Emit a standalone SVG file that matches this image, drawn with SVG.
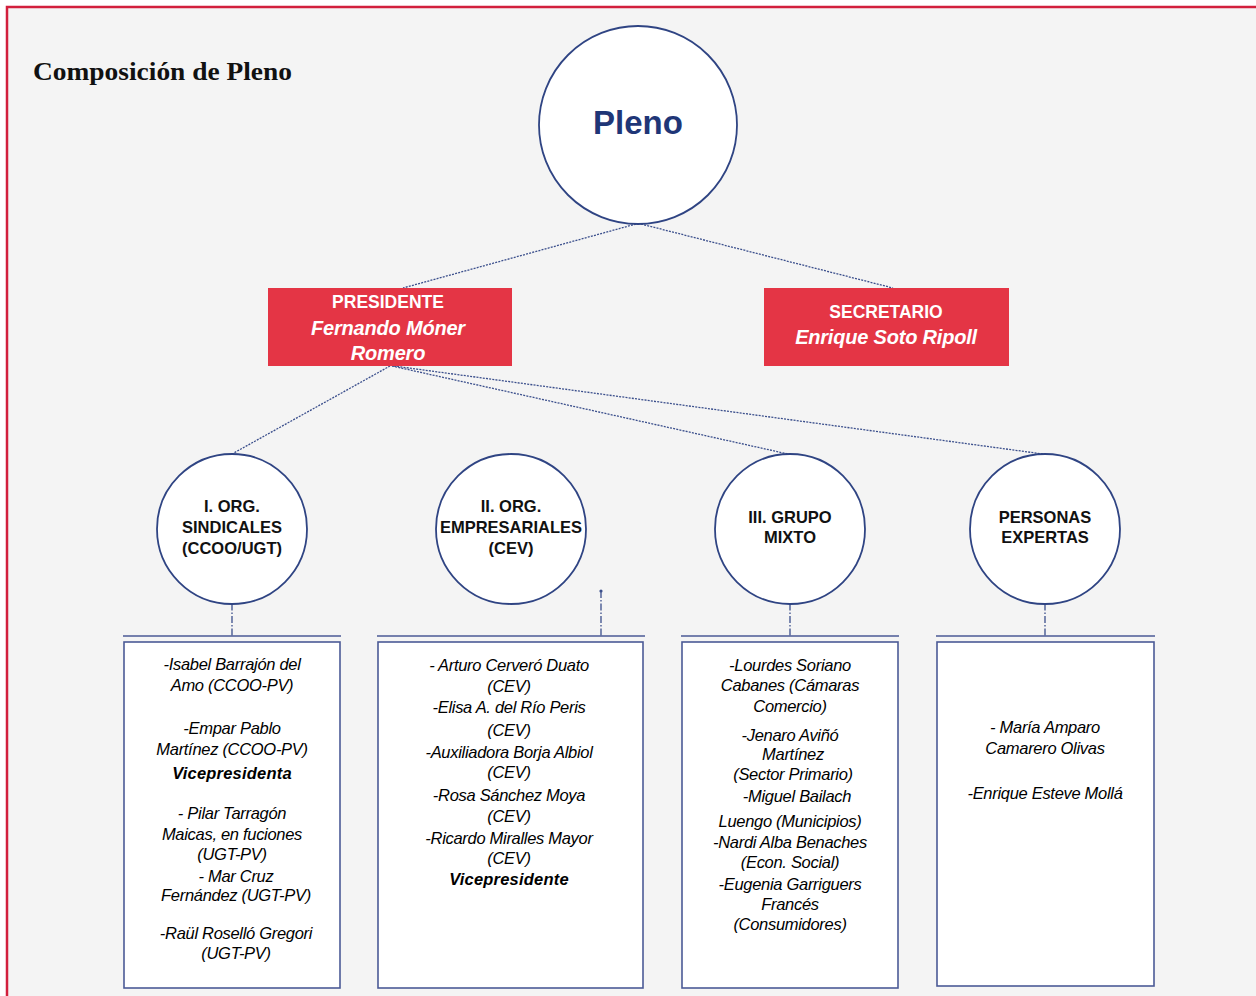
<svg xmlns="http://www.w3.org/2000/svg" width="1256" height="996" viewBox="0 0 1256 996">
<style>
.bg{fill:#f4f4f4}
.frame{fill:none;stroke:#d21f3c;stroke-width:2.5}
.circ{fill:#ffffff;stroke:#2f4483;stroke-width:1.8}
.redbox{fill:#e43545}
.box{fill:#ffffff;stroke:#4b5a96;stroke-width:1.6}
.hline{stroke:#4b5a96;stroke-width:1.6}
.dot{fill:none;stroke:#3b4f8c;stroke-width:1.3;stroke-dasharray:2 1.2}
.vline{fill:none;stroke:#3b4f8c;stroke-width:1.3;stroke-dasharray:7 2 1.5 2}
.title{font-family:"Liberation Serif","DejaVu Serif",serif;font-weight:bold;font-size:26px;fill:#111}
.pleno{font-family:"Liberation Sans",Arial,sans-serif;font-weight:bold;font-size:33px;fill:#1f3677;text-anchor:middle}
.rh{font-family:"Liberation Sans",Arial,sans-serif;font-weight:bold;font-size:17.5px;fill:#ffffff;text-anchor:middle}
.rn{font-family:"Liberation Sans",Arial,sans-serif;font-weight:bold;font-style:italic;font-size:20px;fill:#ffffff;text-anchor:middle;letter-spacing:-0.2px}
.ct{font-family:"Liberation Sans",Arial,sans-serif;font-weight:bold;font-size:16.5px;fill:#111;text-anchor:middle}
.m{font-family:"Liberation Sans",Arial,sans-serif;font-style:italic;font-size:16.5px;fill:#000;text-anchor:middle;letter-spacing:-0.3px}
.mb{font-weight:bold;letter-spacing:0.2px}
</style>
<rect x="0" y="0" width="1256" height="996" fill="#ffffff"/>
<rect class="bg" x="7" y="7" width="1249" height="989"/>
<path class="frame" d="M7,996 V7 H1256"/>

<text class="title" x="33" y="80" textLength="259" lengthAdjust="spacingAndGlyphs">Composición de Pleno</text>

<g id="connectors">
<line class="dot" x1="636" y1="224" x2="403" y2="288"/>
<line class="dot" x1="641" y1="224" x2="893" y2="288"/>
<line class="dot" x1="390" y1="366" x2="232" y2="454"/>
<line class="dot" x1="392" y1="366" x2="788" y2="454"/>
<line class="dot" x1="394" y1="366" x2="1043" y2="454"/>
<line class="vline" x1="232" y1="591" x2="232" y2="636"/>
<line class="vline" x1="601" y1="591" x2="601" y2="636"/>
<line class="vline" x1="790" y1="591" x2="790" y2="636"/>
<line class="vline" x1="1045" y1="591" x2="1045" y2="636"/>
<circle cx="232" cy="591" r="1.6" fill="#3b4f8c"/>
<circle cx="601" cy="591" r="1.6" fill="#3b4f8c"/>
<circle cx="790" cy="591" r="1.6" fill="#3b4f8c"/>
<circle cx="1045" cy="591" r="1.6" fill="#3b4f8c"/>
</g>

<g id="pleno">
<circle class="circ" cx="638" cy="125" r="99"/>
<text class="pleno" x="638" y="134">Pleno</text>
</g>

<g id="presidente">
<rect class="redbox" x="268" y="288" width="244" height="78"/>
<text class="rh" x="388" y="308">PRESIDENTE</text>
<text class="rn" x="388" y="335">Fernando Móner</text>
<text class="rn" x="388" y="360">Romero</text>
</g>

<g id="secretario">
<rect class="redbox" x="764" y="288" width="245" height="78"/>
<text class="rh" x="886" y="318">SECRETARIO</text>
<text class="rn" x="886" y="344">Enrique Soto Ripoll</text>
</g>

<g id="org-sindicales">
<circle class="circ" cx="232" cy="529" r="75"/>
<text class="ct" x="232" y="512">I. ORG.</text>
<text class="ct" x="232" y="533">SINDICALES</text>
<text class="ct" x="232" y="554">(CCOO/UGT)</text>
</g>

<g id="org-empresariales">
<circle class="circ" cx="511" cy="529" r="75"/>
<text class="ct" x="511" y="512">II. ORG.</text>
<text class="ct" x="511" y="533">EMPRESARIALES</text>
<text class="ct" x="511" y="554">(CEV)</text>
</g>

<g id="grupo-mixto">
<circle class="circ" cx="790" cy="529" r="75"/>
<text class="ct" x="790" y="523">III. GRUPO</text>
<text class="ct" x="790" y="543">MIXTO</text>
</g>

<g id="personas-expertas">
<circle class="circ" cx="1045" cy="529" r="75"/>
<text class="ct" x="1045" y="523">PERSONAS</text>
<text class="ct" x="1045" y="543">EXPERTAS</text>
</g>

<g id="miembros-sindicales">
<line class="hline" x1="123" y1="636" x2="341" y2="636"/>
<rect class="box" x="124" y="642" width="216" height="346"/>
<text class="m" x="232" y="670">-Isabel Barrajón del</text>
<text class="m" x="232" y="691">Amo (CCOO-PV)</text>
<text class="m" x="232" y="734">-Empar Pablo</text>
<text class="m" x="232" y="755">Martínez (CCOO-PV)</text>
<text class="m mb" x="232" y="779">Vicepresidenta</text>
<text class="m" x="232" y="819">- Pilar Tarragón</text>
<text class="m" x="232" y="840">Maicas, en fuciones</text>
<text class="m" x="232" y="860">(UGT-PV)</text>
<text class="m" x="236" y="882">- Mar Cruz</text>
<text class="m" x="236" y="901">Fernández (UGT-PV)</text>
<text class="m" x="236" y="939">-Raül Roselló Gregori</text>
<text class="m" x="236" y="959">(UGT-PV)</text>
</g>

<g id="miembros-empresariales">
<line class="hline" x1="377" y1="636" x2="645" y2="636"/>
<rect class="box" x="378" y="642" width="265" height="346"/>
<text class="m" x="509" y="671">- Arturo Cerveró Duato</text>
<text class="m" x="509" y="692">(CEV)</text>
<text class="m" x="509" y="713">-Elisa A. del Río Peris</text>
<text class="m" x="509" y="736">(CEV)</text>
<text class="m" x="509" y="758">-Auxiliadora Borja Albiol</text>
<text class="m" x="509" y="778">(CEV)</text>
<text class="m" x="509" y="801">-Rosa Sánchez Moya</text>
<text class="m" x="509" y="822">(CEV)</text>
<text class="m" x="509" y="844">-Ricardo Miralles Mayor</text>
<text class="m" x="509" y="864">(CEV)</text>
<text class="m mb" x="509" y="885">Vicepresidente</text>
</g>

<g id="miembros-mixto">
<line class="hline" x1="681" y1="636" x2="899" y2="636"/>
<rect class="box" x="682" y="642" width="216" height="346"/>
<text class="m" x="790" y="671">-Lourdes Soriano</text>
<text class="m" x="790" y="691">Cabanes (Cámaras</text>
<text class="m" x="790" y="712">Comercio)</text>
<text class="m" x="790" y="741">-Jenaro Aviñó</text>
<text class="m" x="793" y="760">Martínez</text>
<text class="m" x="793" y="780">(Sector Primario)</text>
<text class="m" x="797" y="802">-Miguel Bailach</text>
<text class="m" x="790" y="827">Luengo (Municipios)</text>
<text class="m" x="790" y="848">-Nardi Alba Benaches</text>
<text class="m" x="790" y="868">(Econ. Social)</text>
<text class="m" x="790" y="890">-Eugenia Garriguers</text>
<text class="m" x="790" y="910">Francés</text>
<text class="m" x="790" y="930">(Consumidores)</text>
</g>

<g id="miembros-expertas">
<line class="hline" x1="936" y1="636" x2="1155" y2="636"/>
<rect class="box" x="937" y="642" width="217" height="344"/>
<text class="m" x="1045" y="733">- María Amparo</text>
<text class="m" x="1045" y="754">Camarero Olivas</text>
<text class="m" x="1045" y="799">-Enrique Esteve Mollá</text>
</g>
</svg>
